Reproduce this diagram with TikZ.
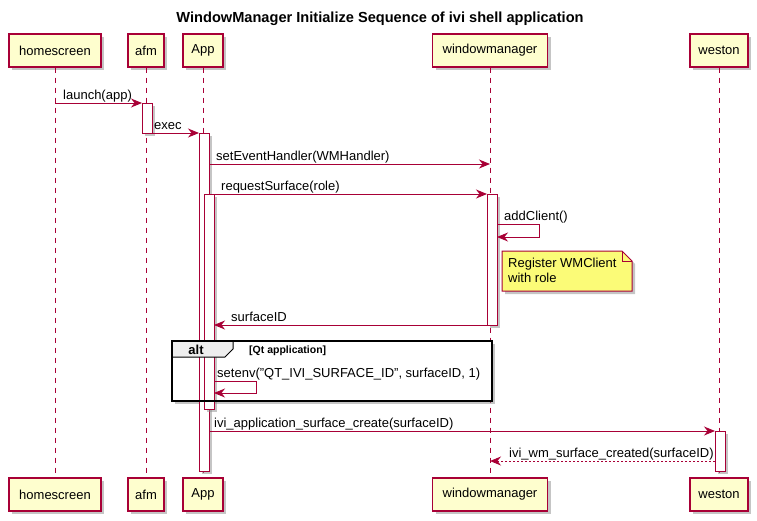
\documentclass[tikz,border=0pt]{standalone}
\usepackage{fontspec}
\setmainfont{Liberation Sans}
\usetikzlibrary{arrows.meta, shadows}

\definecolor{umlred}{HTML}{A80036}
\definecolor{umlbox}{HTML}{FEFECE}
\definecolor{umlnote}{HTML}{FBFB77}
\definecolor{umlgroup}{HTML}{EEEEEE}

\tikzset{
  umlshadow/.style={drop shadow={shadow xshift=3pt, shadow yshift=-3pt, fill=black!45, opacity=0.5}},
  participant/.style={draw=umlred, fill=umlbox, line width=1.2pt, umlshadow,
    minimum height=33pt, inner sep=0pt, font=\fontsize{13}{15}\selectfont},
  lifeline/.style={umlred, line width=1pt, dash pattern=on 5pt off 5pt},
  activebar/.style={draw=umlred, fill=white, line width=1pt, umlshadow,
    minimum width=10pt, inner sep=0pt, outer sep=0pt},
  message/.style={umlred, line width=1pt, -{Stealth[length=11pt, width=9pt, inset=3.5pt]}},
  returnmsg/.style={message, dash pattern=on 2pt off 2pt},
  msgtext/.style={anchor=base west, inner sep=0pt, font=\fontsize{13}{15}\selectfont},
}

\begin{document}
\begin{tikzpicture}[x=1pt, y=-1pt, line join=miter]

% Canvas of the whole picture
\useasboundingbox (0,0) rectangle (757,520);

% Title
\node[font=\bfseries\fontsize{14.6}{17}\selectfont] (title) at (380,19)
  {WindowManager Initialize Sequence of ivi shell application};

% Participants, top row
\node[participant, minimum width=92pt]  (hs)     at (55,50.5)  {homescreen};
\node[participant, minimum width=36pt]  (afm)    at (146,50.5) {afm};
\node[participant, minimum width=40pt]  (app)    at (203,50.5) {App};
\node[participant, minimum width=115pt] (wm)     at (490,50.5) {windowmanager};
\node[participant, minimum width=58pt]  (weston) at (719,50.5) {weston};

% Participants, bottom row
\node[participant, minimum width=92pt]  (hsB)     at (55,494.5)  {homescreen};
\node[participant, minimum width=36pt]  (afmB)    at (146,494.5) {afm};
\node[participant, minimum width=40pt]  (appB)    at (203,494.5) {App};
\node[participant, minimum width=115pt] (wmB)     at (490,494.5) {windowmanager};
\node[participant, minimum width=58pt]  (westonB) at (719,494.5) {weston};

% Lifelines
\draw[lifeline] (hs.south) -- (hsB.north);
\draw[lifeline] (afm.south) -- (afmB.north);
\draw[lifeline] (app.south) -- (appB.north);
\draw[lifeline] (wm.south) -- (wmB.north);
\draw[lifeline] (weston.south) -- (westonB.north);

% alt group: shadow first, frame and tab after the bars
\coordinate (altNW) at (172,341);
\coordinate (altSE) at (492,401);
\fill[black!45, opacity=0.5] ([shift={(3,3)}]altNW) rectangle ([shift={(3,3)}]altSE);
\fill[white] (altNW) rectangle (altSE);

% Activation bars
\node[activebar, minimum height=30pt]  (afmAct)    at (147,118)   {};
\node[activebar, minimum height=338pt] (appAct)    at (204,302)   {};
\node[activebar, minimum height=215pt] (appAct2)   at (209,301.5) {};
\node[activebar, minimum height=131pt] (wmAct)     at (492,259.5) {};
\node[activebar, minimum height=40pt]  (westonAct) at (720,451)   {};

\draw[black, line width=1pt, fill=umlgroup]
  (altNW) -- (233,341) -- (233,349) -- (225,357) -- (172,357) -- cycle;
\draw[black, line width=2pt] (altNW) rectangle (altSE);
\node[font=\bfseries\fontsize{13}{15}\selectfont] (altLbl) at (196,349.5) {alt};
\node[msgtext, font=\bfseries\fontsize{10.5}{12}\selectfont] (altCond) at (249,353)
  {[Qt application]};

% Message end points
\coordinate (launchS) at (55,103);
\coordinate (setEvS)  at (209,164);
\coordinate (setEvE)  at (490,164);
\coordinate (reqS)    at (209,194);
\coordinate (addA)    at (497,224);
\coordinate (addB)    at (539,237);
\coordinate (sidE)    at (214,325);
\coordinate (envA)    at (214,381);
\coordinate (envB)    at (256,393);
\coordinate (iviS)    at (209,431);
\coordinate (crS)     at (715,461);
\coordinate (crE)     at (490,461);

% Messages
\draw[message] (launchS) -- (afmAct.north west);
\node[msgtext] (launchLbl) at (63,99) {launch(app)};

\draw[message] (afmAct.south east) -- (appAct.north west);
\node[msgtext] (execLbl) at (154,129) {exec};

\draw[message] (setEvS) -- (setEvE);
\node[msgtext] (setEvLbl) at (216,160) {setEventHandler(WMHandler)};

\draw[message] (reqS) -- (wmAct.north west);
\node[msgtext] (reqLbl) at (221,190) {requestSurface(role)};

\draw[message] (addA) -- (addA -| addB) -- (addB) -- (addB -| addA);
\node[msgtext] (addLbl) at (504,220) {addClient()};

% Note on windowmanager
\draw[umlred, fill=umlnote, line width=1pt, umlshadow]
  (502,251) -- (622,251) -- (632,261) -- (632,291) -- (502,291) -- cycle;
\draw[umlred, line width=1pt] (622,251) -- (622,261) -- (632,261);
\node[msgtext, align=left, anchor=north west] (note) at (508,258)
  {Register WMClient\\with role};

\draw[message] (wmAct.south west) -- (sidE);
\node[msgtext] (sidLbl) at (231,321) {surfaceID};

\draw[message] (envA) -- (envA -| envB) -- (envB) -- (envB -| envA);
\node[msgtext] (envLbl) at (217,377) {setenv("QT\_IVI\_SURFACE\_ID", surfaceID, 1)};

\draw[message] (iviS) -- (westonAct.north west);
\node[msgtext] (iviLbl) at (214,427) {ivi\_application\_surface\_create(surfaceID)};

\draw[returnmsg] (crS) -- (crE);
\node[msgtext] (crLbl) at (509,457) {ivi\_wm\_surface\_created(surfaceID)};

\end{tikzpicture}
\end{document}
